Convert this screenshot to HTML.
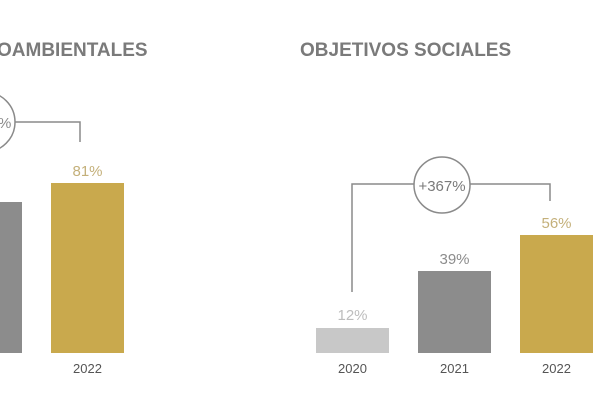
<!DOCTYPE html>
<html><head><meta charset="utf-8"><style>
html,body{margin:0;padding:0;background:#fff;width:600px;height:407px;overflow:hidden}
svg{display:block}
text{font-family:"Liberation Sans",sans-serif}
</style></head><body>
<svg width="600" height="407" viewBox="0 0 600 407">
<text x="-3" y="56" font-size="19" font-weight="bold" fill="#7a7a7a">OAMBIENTALES</text>
<text x="300" y="56" font-size="19" font-weight="bold" fill="#7a7a7a">OBJETIVOS SOCIALES</text>

<!-- left chart -->
<circle cx="-15" cy="122" r="30" fill="none" stroke="#8a8a8a" stroke-width="1.5"/>
<text x="-2" y="128" font-size="15" fill="#8a8a8a">%</text>
<polyline points="15,122 80,122 80,142" fill="none" stroke="#8a8a8a" stroke-width="1.5"/>
<rect x="0" y="202" width="22" height="151" fill="#8c8c8c"/>
<rect x="51" y="183" width="73" height="170" fill="#c9a94d"/>
<text x="87.5" y="176" font-size="15" fill="#c4b07a" text-anchor="middle">81%</text>
<text x="87.5" y="373" font-size="13" fill="#555" text-anchor="middle">2022</text>

<!-- right chart -->
<polyline points="352,292 352,184 414,184" fill="none" stroke="#8a8a8a" stroke-width="1.5"/>
<polyline points="470,184 550,184 550,201" fill="none" stroke="#8a8a8a" stroke-width="1.5"/>
<circle cx="442" cy="185" r="28" fill="none" stroke="#8a8a8a" stroke-width="1.5"/>
<text x="442" y="191" font-size="15" fill="#7a7a7a" text-anchor="middle">+367%</text>
<rect x="316" y="328" width="73" height="25" fill="#c8c8c8"/>
<rect x="418" y="271" width="73" height="82" fill="#8c8c8c"/>
<rect x="520" y="235" width="73" height="118" fill="#c9a94d"/>
<text x="352.5" y="320" font-size="15" fill="#bdbdbd" text-anchor="middle">12%</text>
<text x="454.5" y="264" font-size="15" fill="#8c8c8c" text-anchor="middle">39%</text>
<text x="556.5" y="228" font-size="15" fill="#c4b07a" text-anchor="middle">56%</text>
<text x="352.5" y="373" font-size="13" fill="#555" text-anchor="middle">2020</text>
<text x="454.5" y="373" font-size="13" fill="#555" text-anchor="middle">2021</text>
<text x="556.5" y="373" font-size="13" fill="#555" text-anchor="middle">2022</text>
</svg>
</body></html>
